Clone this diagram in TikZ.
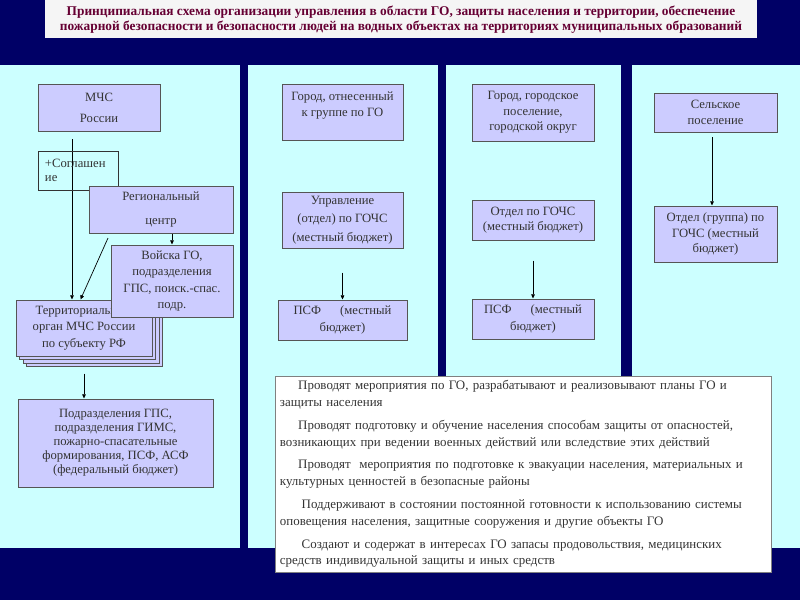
\documentclass[tikz,border=0pt]{standalone}
\usepackage{fontspec}
\setmainfont{Liberation Serif}
\usepackage{tikz}
\usetikzlibrary{calc}
\usetikzlibrary{shadows}
\usetikzlibrary{arrows.meta}
\definecolor{navy}{RGB}{0,0,102}
\definecolor{panelcyan}{RGB}{204,255,255}
\definecolor{boxlilac}{RGB}{204,204,255}
\definecolor{boxline}{RGB}{85,85,85}
\definecolor{titlered}{RGB}{102,0,51}
\tikzset{
    orgbox/.style={
        draw=boxline,
        fill=boxlilac,
        line width=0.7pt,
        align=center,
        text=black!80,
        inner sep=1pt,
        font=\fontsize{9}{9.5}\selectfont
    },
    boxsize/.style 2 args={
        minimum width=#1*0.025cm,
        minimum height=#2*0.025cm
    },
    % стопка карточек под территориальным органом
    stackshadow/.style={
        general shadow={fill=boxlilac, draw=boxline, shadow xshift=#1, shadow yshift=-#1}
    },
    thinarrow/.style={
        line width=0.5pt,
        black,
        -{Triangle[length=3pt, width=2.6pt]}
    }
}

\begin{document}
\begin{tikzpicture}[x=0.025cm, y=-0.025cm]
    \useasboundingbox (0,0) rectangle (800,600);
    \fill[navy] (0,0) rectangle (800,600);
    \fill[gray!8] (45,0) rectangle (757,38);
    \fill[panelcyan] (0,65) rectangle (240,548);
    \fill[panelcyan] (248,65) rectangle (438,548);
    \fill[panelcyan] (446,65) rectangle (621,548);
    \fill[panelcyan] (632,65) rectangle (800,548);

    \node[titlered, font=\bfseries\fontsize{9.5}{10.7}\selectfont, align=center] (title) at (401,20)
        {Принципиальная схема организации управления в области ГО, защиты населения и территории, обеспечение\\
         пожарной безопасности и безопасности людей на водных объектах на территориях муниципальных образований};

    % федеральный уровень
    \node[orgbox, boxsize={122}{47}] (mchs) at (99,107.5) {МЧС\\[5.5pt]России};
    \node[orgbox, stackshadow=7.5pt, stackshadow=5pt, stackshadow=2.5pt, boxsize={136}{56}] (terr) at (84,328)
        {Территориальный\\[2pt]орган МЧС России\\[2pt]по субъекту РФ};
    \coordinate (m1) at (72,139);
    \coordinate (r1) at (108,238);
    \draw[thinarrow] (m1) to (m1 |- terr.north);
    \draw[thinarrow] (r1) to ($(terr.north west)+(65,0)$);
    \node[orgbox, draw=black!80, fill=none, boxsize={80}{39}, text width=1.65cm, align=left] (sogl) at (78,170.5)
        {+Соглашен\\ие};
    \node[orgbox, boxsize={144}{47}] (region) at (161,209.5) {Региональный\\[7pt]центр};
    \node[orgbox, boxsize={122}{72}] (voiska) at (172,281)
        {Войска ГО,\\[2pt]подразделения\\[2pt]ГПС, поиск.-спас.\\[2pt]подр.};
    \draw[thinarrow] (region.south -| voiska.north) to (voiska.north);
    \node[orgbox, boxsize={195}{88}] (podr) at (115.5,443)
        {Подразделения ГПС,\\[0.5pt]подразделения ГИМС,\\[0.5pt]пожарно-спасательные\\[0.5pt]формирования, ПСФ, АСФ\\[0.5pt](федеральный бюджет)};
    \draw[thinarrow] ($(terr.south)+(0,17)$) to (terr.south |- podr.north);

    % город, отнесенный к группе по ГО
    \node[orgbox, boxsize={121}{56}] (gorod1) at (342.5,112) {Город, отнесенный\\[2pt]к группе по ГО\\[2pt]\mbox{}};
    \node[orgbox, boxsize={121}{56}] (upr) at (342.5,220) {Управление\\[3.5pt](отдел) по ГОЧС\\[3.5pt](местный бюджет)};
    \node[orgbox, boxsize={129}{40}] (psf1) at (342.5,320) {ПСФ\quad\ \ (местный\\[2pt]бюджет)};
    \draw[thinarrow] ($(upr.south)+(0,24)$) to (psf1.north);

    % город, городское поселение
    \node[orgbox, boxsize={122}{57}] (gorod2) at (533,112.5) {Город, городское\\[1.5pt]поселение,\\[1.5pt]городской округ};
    \node[orgbox, boxsize={122}{40}] (otdel) at (533,220) {Отдел по ГОЧС\\[1.5pt](местный бюджет)};
    \node[orgbox, boxsize={122}{40}] (psf2) at (533,319) {ПСФ\quad\ \ (местный\\[2pt]бюджет)};
    \draw[thinarrow] ($(otdel.south)+(0,20)$) to (psf2.north);

    % сельское поселение
    \node[orgbox, boxsize={123}{39}] (selo) at (715.5,112.5) {Сельское\\[1.5pt]поселение};
    \node[orgbox, boxsize={123}{56}] (otdel2) at (715.5,234) {Отдел (группа) по\\[1.5pt]ГОЧС (местный\\[1.5pt]бюджет)};
    \draw[thinarrow] ($(selo.south)+(-3.5,5)$) to ($(otdel2.north)+(-3.5,0)$);

    \node[draw=gray, fill=white, line width=0.6pt, boxsize={496}{196}, text width=12.15cm, align=left,
          inner sep=0pt, text=black!80, font=\fontsize{9.2}{12}\selectfont] (duties) at (523,474)
        {\hspace*{13pt}Проводят мероприятия по ГО, разрабатывают и реализовывают планы ГО и\\
         защиты населения\\[4.2pt]
         \hspace*{13pt}Проводят подготовку и обучение населения способам защиты от опасностей,\\
         возникающих при ведении военных действий или вследствие этих действий\\[4.2pt]
         \hspace*{13pt}Проводят\ \ мероприятия по подготовке к эвакуации населения, материальных и\\
         культурных ценностей в безопасные районы\\[4.2pt]
         \hspace*{15.5pt}Поддерживают в состоянии постоянной готовности к использованию системы\\
         оповещения населения, защитные сооружения и другие объекты ГО\\[4.2pt]
         \hspace*{15.5pt}Создают и содержат в интересах ГО запасы продовольствия, медицинских\\
         средств индивидуальной защиты и иных средств};
\end{tikzpicture}
\end{document}
